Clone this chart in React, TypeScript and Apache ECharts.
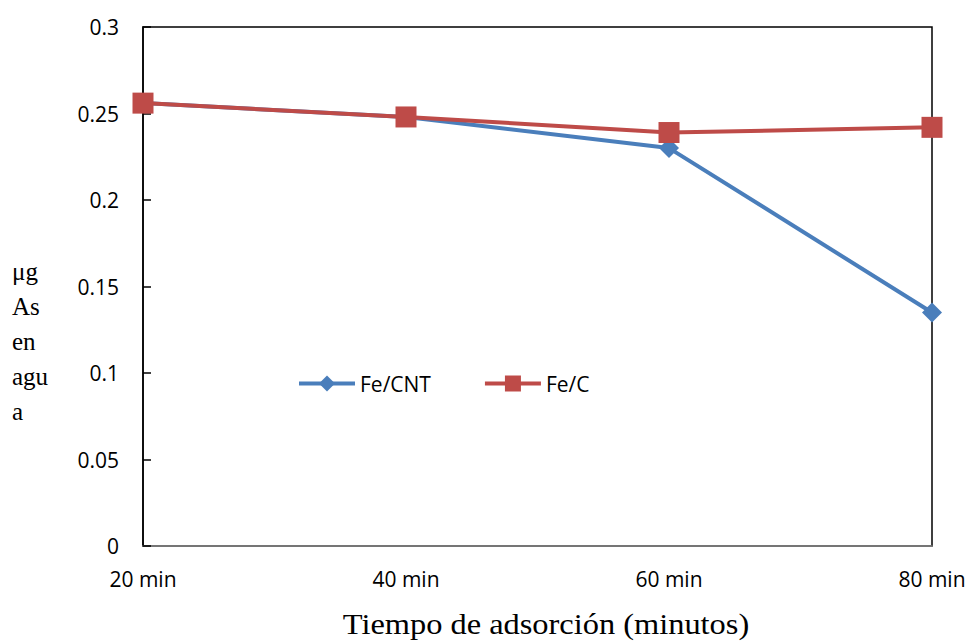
import React, { useEffect, useRef } from "react";
import * as echarts from "echarts";

const categories = ["20 min", "40 min", "60 min", "80 min"];
const feCNT = [0.256, 0.248, 0.230, 0.135];
const feC = [0.256, 0.248, 0.239, 0.242];
const seriesNames = ["Fe/CNT", "Fe/C"];
const xTitle = "Tiempo de adsorción (minutos)";
const yTitle = "μg\nAs\nen\nagu\na";

const SERIF = "'Liberation Serif', 'Times New Roman', Times, serif";

export default function App() {
  const ref = useRef<HTMLDivElement>(null);
  useEffect(() => {
    document.body.style.margin = "0";
    const chart = echarts.init(ref.current!, null, { renderer: "svg" });
    chart.setOption({
      animation: false,
      backgroundColor: "#fff",
      grid: {
        left: 143, top: 27, right: 40, bottom: 95,
        show: true, borderColor: "#000", borderWidth: 1.5,
      },
      legend: {
        left: 292, top: 368,
        itemWidth: 56, itemHeight: 20, itemGap: 52,
        lineStyle: { width: 4 },
        textStyle: { fontFamily: "Open Sans", fontSize: 21, color: "#000" },
        data: seriesNames,
      },
      xAxis: {
        type: "category",
        data: categories,
        boundaryGap: false,
        axisLine: { lineStyle: { color: "#888", width: 1.5 } },
        axisTick: { show: false },
        axisLabel: {
          margin: 22, color: "#000", fontFamily: "Open Sans", fontSize: 21,
        },
        splitLine: { show: false },
      },
      yAxis: {
        type: "value",
        min: 0, max: 0.3, interval: 0.05,
        axisLine: { show: true, lineStyle: { color: "#000", width: 1.5 } },
        axisTick: { show: true, inside: true, length: 8, lineStyle: { color: "#000", width: 1.5 } },
        axisLabel: {
          margin: 24, color: "#000", fontFamily: "Open Sans", fontSize: 21,
          formatter: (v: number) => String(Math.round(v * 100) / 100),
        },
        splitLine: { show: false },
      },
      graphic: [
        {
          type: "text", left: 12, top: 254,
          style: {
            text: yTitle, fontFamily: SERIF, fontSize: 25,
            fill: "#000", lineHeight: 35,
          },
        },
        {
          type: "text", x: 546, y: 624,
          scaleX: 1.08,
          style: {
            text: xTitle, fontFamily: SERIF, fontSize: 30, fill: "#000",
            align: "center", verticalAlign: "middle",
          },
        },
      ],
      series: [
        {
          name: seriesNames[0], type: "line", data: feCNT,
          symbol: "diamond", symbolSize: 20,
          itemStyle: { color: "#4A7EBB" },
          lineStyle: { color: "#4A7EBB", width: 4 },
        },
        {
          name: seriesNames[1], type: "line", data: feC,
          symbol: "rect", symbolSize: 21,
          itemStyle: { color: "#BE4B48" },
          lineStyle: { color: "#BE4B48", width: 4 },
          z: 3,
        },
      ],
    });
    return () => chart.dispose();
  }, []);
  return <div ref={ref} style={{ position: "fixed", left: 0, top: 0, width: 972, height: 641 }} />;
}
